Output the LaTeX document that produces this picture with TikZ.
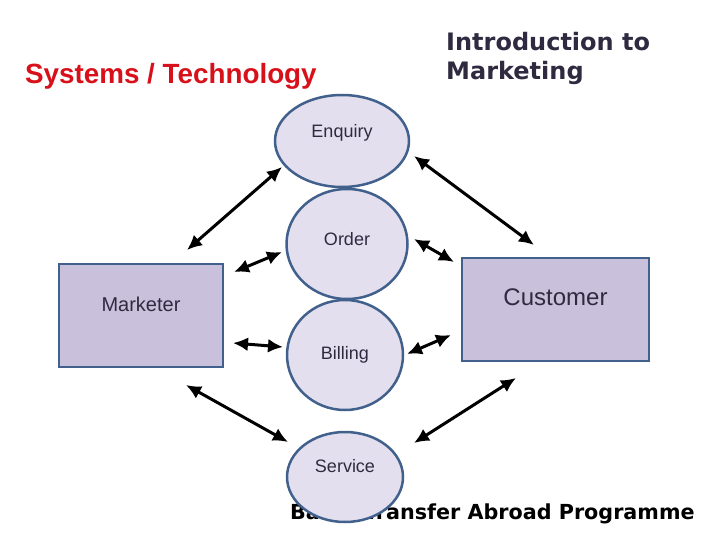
\documentclass[tikz,border=0pt]{standalone}
\usepackage{fontspec}
\setmainfont{Liberation Sans}
\newfontfamily\headfont{DejaVu Sans}
\usetikzlibrary{shapes.geometric,arrows.meta}
\definecolor{rimblue}{HTML}{41618C}
\definecolor{ovalfill}{HTML}{E3DFEE}
\definecolor{boxfill}{HTML}{C9C0DB}
\definecolor{inkdark}{HTML}{2F2A40}
\definecolor{titlered}{HTML}{D8101A}
\begin{document}
\begin{tikzpicture}[x=1pt, y=-1pt,
  stage/.style={ellipse, draw=rimblue, fill=ovalfill, line width=2.5pt, inner sep=0pt, text=inkdark, font=\fontsize{18}{20}\selectfont, text height=13pt},
  party/.style={rectangle, draw=rimblue, fill=boxfill, line width=2.5pt, inner sep=0pt, text=inkdark, text height=15pt, text depth=24pt},
  link/.style={{Latex[length=15pt,width=14pt]}-{Latex[length=15pt,width=14pt]}, line width=3pt}]

        \useasboundingbox[fill=white] (0,0) rectangle (720,540);

        \node[anchor=west, inner sep=0pt, text=titlered, font=\fontsize{27.8}{30}\selectfont\bfseries] at (25,76) (systems){Systems / Technology};
        \node[anchor=north west, text=inkdark, align=left, inner sep=0pt, font=\headfont\fontsize{24}{29}\selectfont\bfseries] at (446,32) (intro){Introduction to\\Marketing};

        \node[anchor=west, inner sep=0pt, font=\headfont\fontsize{20.7}{23}\selectfont\bfseries] at (290,514) (batch){Batch Transfer Abroad Programme};

        \node[stage, minimum width=134pt, minimum height=92pt, text depth=20pt] at (342,141) (enquiry){Enquiry};
        \node[stage, minimum width=121pt, minimum height=110pt, text depth=10pt] at (347,244) (order){Order};
        \node[stage, minimum width=116pt, minimum height=110pt, text depth=4pt] at (345,355) (billing){Billing};
        \node[stage, minimum width=116pt, minimum height=90pt, text depth=22pt] at (345,477) (service){Service};

        \node[party, minimum width=164pt, minimum height=103pt, font=\fontsize{20}{22}\selectfont] at (141,315.5) (marketer){Marketer};
        \node[party, minimum width=187pt, minimum height=103pt, font=\fontsize{24}{26}\selectfont] at (555.5,309.5) (customer){Customer};

        \coordinate (m1) at (187,250);
        \coordinate (e1) at (282,167);
        \coordinate (m2) at (234,272);
        \coordinate (o1) at (282,252);
        \coordinate (m3) at (233,343);
        \coordinate (b1) at (283,347);
        \coordinate (m4) at (186,385);
        \coordinate (s1) at (288,442);
        \coordinate (e2) at (414,156);
        \coordinate (c1) at (534,245);
        \coordinate (o2) at (414,239);
        \coordinate (c2) at (454,262);
        \coordinate (b2) at (407,354);
        \coordinate (c3) at (451,335);
        \coordinate (s2) at (414,443);
        \coordinate (c4) at (516,378);

        \draw[link] (m1) -- (e1);
        \draw[link] (m2) -- (o1);
        \draw[link] (m3) -- (b1);
        \draw[link] (m4) -- (s1);

        \draw[link] (e2) -- (c1);
        \draw[link] (o2) -- (c2);
        \draw[link] (b2) -- (c3);
        \draw[link] (s2) -- (c4);
\end{tikzpicture}
\end{document}
